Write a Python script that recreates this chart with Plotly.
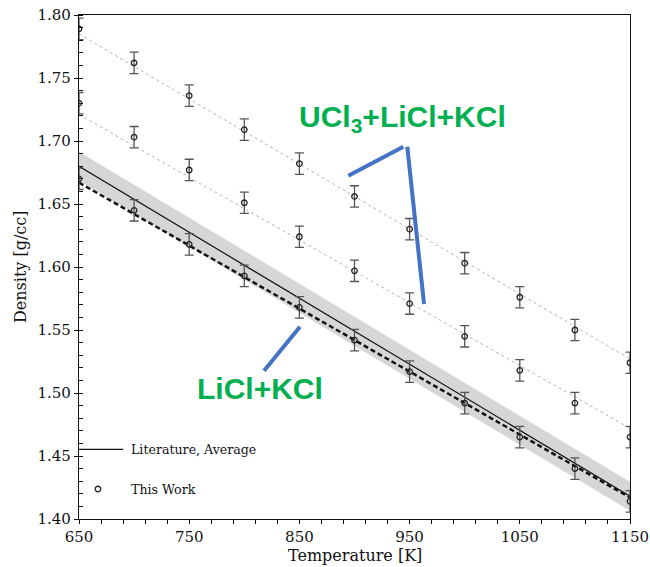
import plotly.graph_objects as go

# ---------------- data ----------------
temps = [650, 700, 750, 800, 850, 900, 950, 1000, 1050, 1100, 1150]

ucl3_high = [1.789, 1.762, 1.736, 1.709, 1.682, 1.656, 1.630, 1.603, 1.576, 1.550, 1.524]
ucl3_low = [1.730, 1.703, 1.677, 1.651, 1.624, 1.597, 1.571, 1.545, 1.518, 1.492, 1.465]
licl_kcl = [1.670, 1.645, 1.618, 1.593, 1.568, 1.542, 1.517, 1.492, 1.465, 1.440, 1.414]
errors = [0.0085, 0.0085, 0.0085, 0.0085, 0.0085, 0.0085, 0.0085, 0.0085, 0.0085, 0.0085, 0.0085]

fit_t = [650, 1150]
fit_high = [1.785, 1.527]
fit_low = [1.721, 1.472]
fit_licl = [1.667, 1.417]          # dashed fit of this work (LiCl+KCl)
lit_avg = [1.680, 1.418]           # literature average
lit_upper = [1.6915, 1.4295]
lit_lower = [1.6685, 1.4065]

x_ticks = [650, 750, 850, 950, 1050, 1150]
y_ticks = [1.40, 1.45, 1.50, 1.55, 1.60, 1.65, 1.70, 1.75, 1.80]

SERIF = "DejaVu Serif"
GREEN = "#00b050"
BLUE = "#4472c4"

fig = go.Figure()

# literature band
fig.add_trace(go.Scatter(x=fit_t, y=lit_lower, mode="lines", line=dict(width=0, color="#d6d6d6"),
                         showlegend=False, hoverinfo="skip"))
fig.add_trace(go.Scatter(x=fit_t, y=lit_upper, mode="lines", line=dict(width=0, color="#d6d6d6"),
                         fill="tonexty", fillcolor="#d6d6d6", showlegend=False, hoverinfo="skip"))

# fit lines
for fy in (fit_high, fit_low):
    fig.add_trace(go.Scatter(x=fit_t, y=fy, mode="lines",
                             line=dict(color="#b5b5b5", width=1, dash="dot"), showlegend=False))
fig.add_trace(go.Scatter(x=fit_t, y=lit_avg, mode="lines",
                         line=dict(color="#111111", width=1.2), showlegend=False))
fig.add_trace(go.Scatter(x=fit_t, y=fit_licl, mode="lines",
                         line=dict(color="#111111", width=2.5, dash="5px,3px"), showlegend=False))

# this-work points
for ys in (ucl3_high, ucl3_low, licl_kcl):
    fig.add_trace(go.Scatter(
        x=temps, y=ys, mode="markers",
        marker=dict(symbol="circle-open", size=5.5, color="#222222", line=dict(width=1.3, color="#222222")),
        error_y=dict(type="data", array=errors, visible=True, color="#555555", thickness=1.3, width=4.5),
        showlegend=False, cliponaxis=True))

# legend (inside plot)
fig.add_trace(go.Scatter(x=[650, 690], y=[1.4553, 1.4553], mode="lines",
                         line=dict(color="#111111", width=1.2), showlegend=False, hoverinfo="skip",
                         cliponaxis=False))
fig.add_trace(go.Scatter(x=[667.2], y=[1.4238], mode="markers",
                         marker=dict(symbol="circle-open", size=5.5, color="#222222",
                                     line=dict(width=1.3, color="#222222")),
                         showlegend=False, hoverinfo="skip"))
fig.add_annotation(x=695.4, y=1.4553, text="Literature, Average", showarrow=False, xanchor="left",
                   yanchor="middle", font=dict(family=SERIF, size=12.6, color="#111111"))
fig.add_annotation(x=695.4, y=1.4238, text="This Work", showarrow=False, xanchor="left",
                   yanchor="middle", font=dict(family=SERIF, size=12.6, color="#111111"))

# blue pointer lines
for (x0, y0, x1, y1) in [(894.4, 1.6725, 944.3, 1.6955), (947.9, 1.6955, 963.1, 1.5706),
                         (850.5, 1.5526, 817.9, 1.5177)]:
    fig.add_shape(type="line", x0=x0, y0=y0, x1=x1, y1=y1, xref="x", yref="y",
                  line=dict(color=BLUE, width=4))

# green labels
fig.add_annotation(x=943.5, y=1.7175, text="<b>UCl<sub>3</sub>+LiCl+KCl</b>", showarrow=False,
                   xanchor="center", yanchor="middle",
                   font=dict(family="Liberation Sans", size=30, color=GREEN))
fig.add_annotation(x=813.8, y=1.5036, text="<b>LiCl+KCl</b>", showarrow=False,
                   xanchor="center", yanchor="middle",
                   font=dict(family="Liberation Sans", size=30, color=GREEN))

# axis titles
fig.add_annotation(x=0.5, y=0, xref="paper", yref="paper", text="Temperature [K]", showarrow=False,
                   xanchor="center", yanchor="middle", yshift=-36,
                   font=dict(family=SERIF, size=16, color="#111111"))
fig.add_annotation(x=0, y=0.5, xref="paper", yref="paper", text="Density [g/cc]", showarrow=False,
                   xanchor="center", yanchor="middle", xshift=-59, textangle=-90,
                   font=dict(family=SERIF, size=16, color="#111111"))

fig.update_xaxes(range=[650, 1150], tickvals=x_ticks, ticktext=[str(t) for t in x_ticks],
                 ticks="outside", ticklen=4, tickcolor="#111111", tickwidth=1,
                 showline=True, linecolor="#111111", linewidth=1.3, mirror=True,
                 showgrid=False, zeroline=False, automargin=False,
                 tickfont=dict(family=SERIF, size=15, color="#111111"),
                 minor=dict(dtick=20, tick0=650, ticks="outside", ticklen=4, tickcolor="#111111", showgrid=False))
fig.update_yaxes(range=[1.40, 1.80], tickvals=y_ticks, ticktext=[f"{v:.2f}" for v in y_ticks],
                 ticks="outside", ticklen=4, tickcolor="#111111", tickwidth=1,
                 showline=True, linecolor="#111111", linewidth=1.3, mirror=True,
                 showgrid=False, zeroline=False, automargin=False,
                 tickfont=dict(family=SERIF, size=15, color="#111111"),
                 minor=dict(dtick=0.01, tick0=1.40, ticks="inside", ticklen=4, tickcolor="#111111", showgrid=False))

fig.update_layout(width=650, height=567, margin=dict(l=79, r=20, t=15, b=48),
                  plot_bgcolor="white", paper_bgcolor="white", showlegend=False)

fig.write_html("out.html", config={"displayModeBar": False},
               post_script="document.body.style.margin='0';document.body.style.overflow='hidden';")
